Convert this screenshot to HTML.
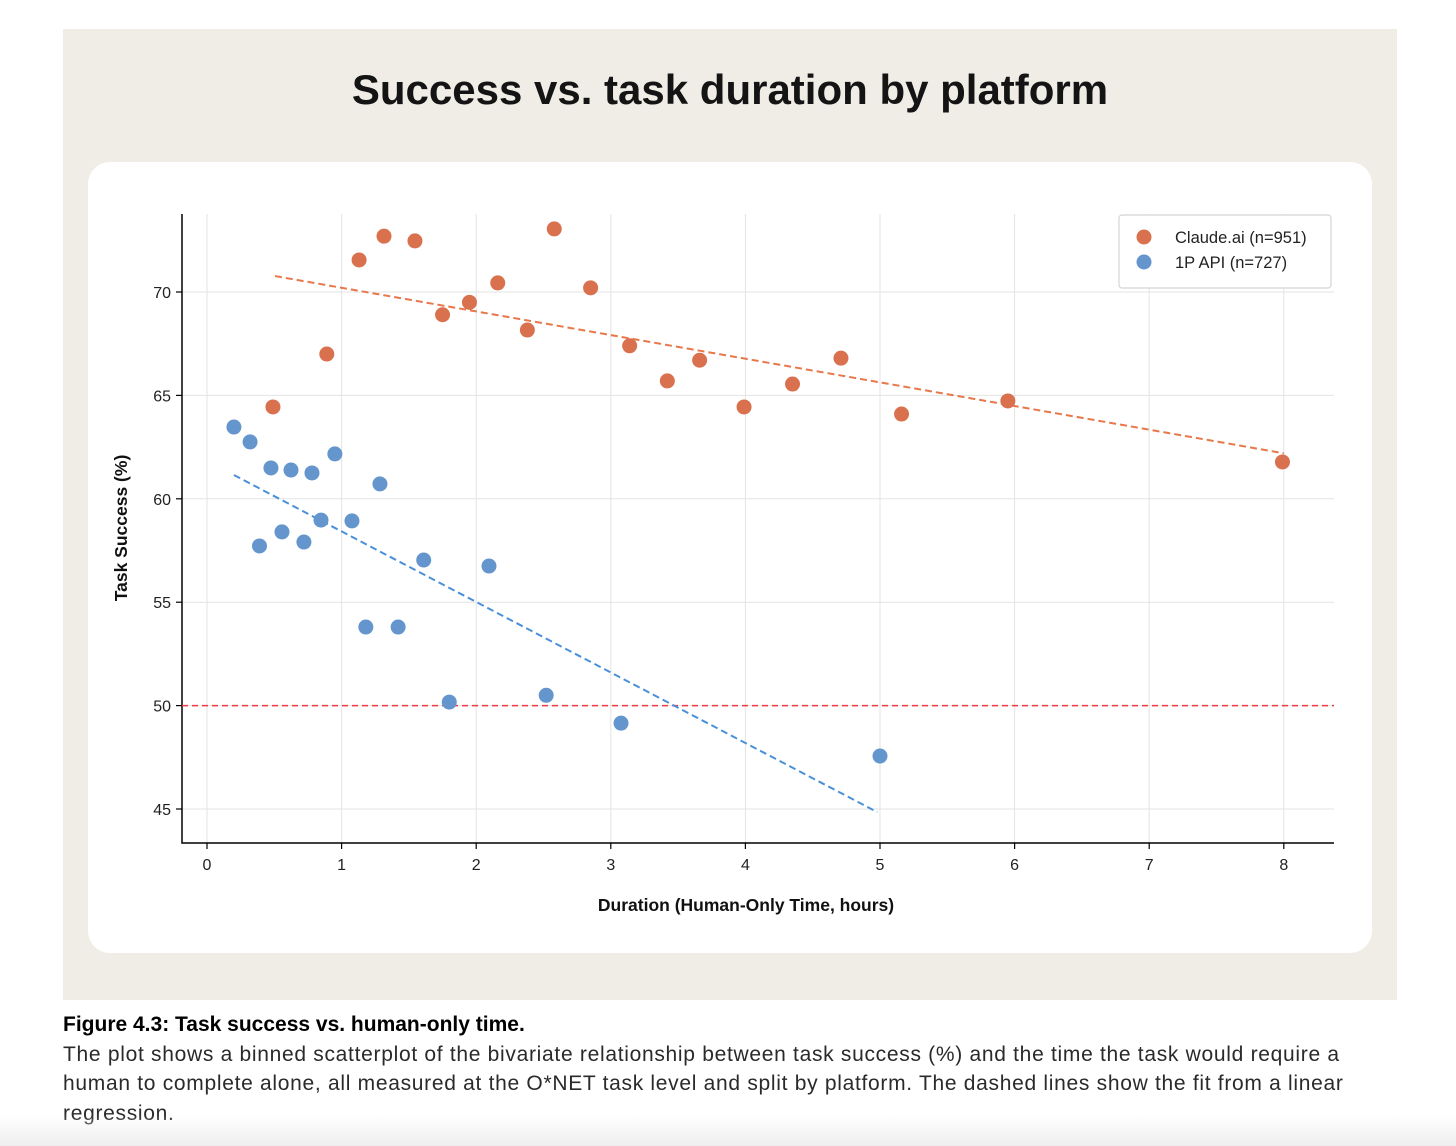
<!DOCTYPE html>
<html><head><meta charset="utf-8"><style>
body{margin:0;width:1456px;height:1146px;background:#fff;font-family:"Liberation Sans",sans-serif;position:relative;overflow:hidden}
#panel{position:absolute;left:63px;top:29px;width:1334px;height:971px;background:#f0ede6}
#card{position:absolute;left:88px;top:162px;width:1284px;height:791px;background:#fff;border-radius:22px}
#title{position:absolute;left:63px;width:1334px;top:66px;text-align:center;font-size:42px;font-weight:bold;color:#141414}
#cap{position:absolute;left:63px;top:1010px;width:1390px;font-size:21px;line-height:29.5px;color:#2a2a2a;white-space:nowrap}
#cap b{color:#000;font-size:21px;letter-spacing:0}
#cap span{letter-spacing:0.7px}
#fade{position:absolute;left:0;top:1115px;width:1456px;height:31px;background:linear-gradient(#fff0,#eeeeee)}
svg{position:absolute;left:0;top:0}
</style></head><body>
<div id="panel"></div>
<div id="title">Success vs. task duration by platform</div>
<div id="card"></div>
<svg id="chart" width="1456" height="1146"></svg>
<div id="cap"><b>Figure 4.3: Task success vs. human-only time.</b><br><span>The plot shows a binned scatterplot of the bivariate relationship between task success (%) and the time the task would require a<br>human to complete alone, all measured at the O*NET task level and split by platform. The dashed lines show the fit from a linear<br>regression.</span></div>
<div id="fade"></div>
<script>
const xTicks=[0,1,2,3,4,5,6,7,8];
const yTicks=[45,50,55,60,65,70];
const claudeX=[0.49,0.89,1.13,1.315,1.545,1.75,1.95,2.16,2.38,2.58,2.85,3.14,3.42,3.66,3.99,4.35,4.71,5.16,5.95,7.99];
const claudeY=[64.44,67.0,71.55,72.7,72.47,68.9,69.5,70.44,68.16,73.05,70.2,67.4,65.7,66.7,64.44,65.55,66.8,64.1,64.73,61.78];
const apiX=[0.20,0.32,0.39,0.475,0.557,0.624,0.72,0.78,0.847,0.95,1.077,1.18,1.285,1.42,1.61,1.80,2.095,2.52,3.076,5.0];
const apiY=[63.47,62.75,57.72,61.49,58.4,61.39,57.91,61.25,58.97,62.17,58.93,53.8,60.72,53.8,57.04,50.17,56.75,50.5,49.15,47.56];
const claudeFit=[[0.505,70.77],[8,62.2]];
const apiFit=[[0.2,61.15],[4.98,44.85]];
const refLine=50;
const L=182,R=1334,T=214,B=843;
const X=v=>207+v*134.6, Y=v=>292-(v-70)*20.68;
const svg=document.getElementById('chart');const NS='http://www.w3.org/2000/svg';
function mk(t,a,p){const e=document.createElementNS(NS,t);for(const k in a)e.setAttribute(k,a[k]);(p||svg).appendChild(e);return e;}
xTicks.forEach(v=>{const g=mk('line',{x1:X(v),x2:X(v),y1:T,y2:B,stroke:'#e3e3e3','stroke-width':1});

const tk=mk('line',{x1:X(v),x2:X(v),y1:B,y2:B+6,stroke:'#000','stroke-width':1.2});

const t=mk('text',{x:X(v),y:B+27,'text-anchor':'middle','font-size':16,fill:'#222'});t.textContent=v;
});
yTicks.forEach(v=>{const g=mk('line',{x1:L,x2:R,y1:Y(v),y2:Y(v),stroke:'#e3e3e3','stroke-width':1});

const tk=mk('line',{x1:L-6,x2:L,y1:Y(v),y2:Y(v),stroke:'#000','stroke-width':1.2});

const t=mk('text',{x:L-11,y:Y(v)+6,'text-anchor':'end','font-size':16,fill:'#222'});t.textContent=v;
});
const ax=mk('path',{d:`M${L} ${T}V${B}H${R}`,fill:'none',stroke:'#000','stroke-width':1.5});

const rl=mk('line',{x1:L,x2:R,y1:Y(refLine),y2:Y(refLine),stroke:'#ee3a44','stroke-width':1.5,'stroke-dasharray':'6,4'});

function fit(f,c,n){const l=mk('line',{x1:X(f[0][0]),y1:Y(f[0][1]),x2:X(f[1][0]),y2:Y(f[1][1]),stroke:c,'stroke-width':2,'stroke-dasharray':'7,4'});
}
fit(claudeFit,'#e8774a','claude-trend-line');fit(apiFit,'#4a90d9','api-trend-line');
function pts(xs,ys,c,n){xs.forEach((x,i)=>{const p=mk('circle',{cx:X(x),cy:Y(ys[i]),r:7.5,fill:c});
});}
pts(claudeX,claudeY,'#d9714e','claude-point');pts(apiX,apiY,'#6496cd','api-point');
const xl=mk('text',{x:746,y:911,'text-anchor':'middle','font-size':17.5,'font-weight':'bold',fill:'#111'});xl.textContent='Duration (Human-Only Time, hours)';

const yl=mk('text',{x:127,y:528,'text-anchor':'middle','font-size':17.5,'font-weight':'bold',fill:'#111',transform:'rotate(-90 127 528)'});yl.textContent='Task Success (%)';

const lg=mk('rect',{x:1119,y:215,width:212,height:73,rx:3,fill:'#fff',stroke:'#d4d4d4','stroke-width':1.2});

[['#d9714e','Claude.ai (n=951)',237],['#6496cd','1P API (n=727)',262]].forEach(d=>{
const c=mk('circle',{cx:1144,cy:d[2],r:7.5,fill:d[0]});
const t=mk('text',{x:1175,y:d[2]+6,'font-size':16.5,fill:'#222'});t.textContent=d[1];
});
</script>
</body></html>
